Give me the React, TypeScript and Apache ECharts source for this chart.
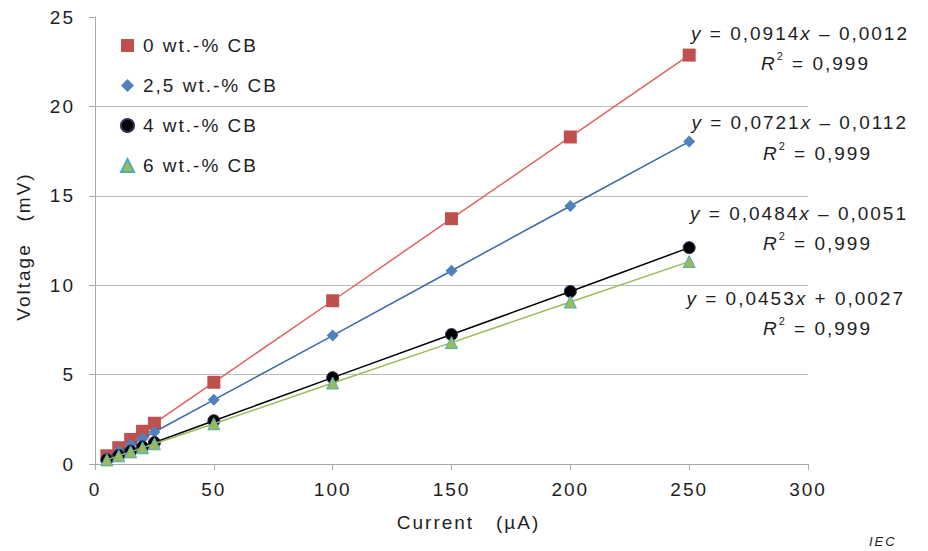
import React, { useEffect, useRef } from "react";
import * as echarts from "echarts";

const currents = [5, 10, 15, 20, 25, 50, 100, 150, 200, 250];
const cb0 = [0.46, 0.91, 1.37, 1.83, 2.28, 4.57, 9.13, 13.72, 18.29, 22.87];
const cb25 = [0.35, 0.71, 1.07, 1.43, 1.79, 3.59, 7.18, 10.81, 14.43, 18.03];
const cb4 = [0.24, 0.48, 0.72, 0.96, 1.2, 2.42, 4.83, 7.24, 9.65, 12.1];
const cb6 = [0.23, 0.46, 0.68, 0.91, 1.13, 2.25, 4.53, 6.79, 9.06, 11.32];

const seriesNames = ["0 wt.-% CB", "2,5 wt.-% CB", "4 wt.-% CB", "6 wt.-% CB"];
const yTicks = [0, 5, 10, 15, 20, 25];
const equations = [
  { slope: "0,0914", sign: "–", icpt: "0,0012" },
  { slope: "0,0721", sign: "–", icpt: "0,0112" },
  { slope: "0,0484", sign: "–", icpt: "0,0051" },
  { slope: "0,0453", sign: "+", icpt: "0,0027" },
];
const rSquared = ["0,999", "0,999", "0,999", "0,999"];

const FONT = "'Liberation Sans', Arial, sans-serif";
const FS = 19;
const LS = 2.0;
const TXT = "#1e1e1e";

export default function App() {
  const ref = useRef<HTMLDivElement>(null);
  useEffect(() => {
    const chart = echarts.init(ref.current!, null, { renderer: "svg" });
    const pair = (ys: number[]) => currents.map((x, i) => [x, ys[i]]);

    const canvas = document.createElement("canvas");
    const ctx = canvas.getContext("2d")!;
    const measure = (s: string, italic: boolean, size: number) => {
      ctx.font = `${italic ? "italic " : ""}${size}px ${FONT}`;
      return ctx.measureText(s).width + s.length * LS;
    };

    type Frag = { t: string; it?: boolean; sup?: boolean };
    const graphics: any[] = [];
    const placeLine = (frags: Frag[], right: number, cy: number) => {
      const widths = frags.map((f) => measure(f.t, !!f.it, f.sup ? 11 : FS));
      const total = widths.reduce((a, b) => a + b, 0);
      let x = right - total + LS;
      frags.forEach((f, k) => {
        graphics.push({
          type: "text",
          x,
          y: f.sup ? cy - 7 : cy,
          style: {
            text: f.t,
            font: `${f.it ? "italic " : ""}${f.sup ? 11 : FS}px ${FONT}`,
            fill: TXT,
            textAlign: "left",
            verticalAlign: "middle",
          },
        });
        x += widths[k];
      });
    };

    const eqY = [33, 122, 213, 298];
    const rY = [63, 153, 243, 328];
    const eqRight = [907, 906, 906, 903];
    const rRight = [868, 870, 870, 870];
    equations.forEach((e, k) => {
      placeLine(
        [
          { t: "y", it: true },
          { t: ` = ${e.slope}` },
          { t: "x", it: true },
          { t: ` ${e.sign} ${e.icpt}` },
        ],
        eqRight[k],
        eqY[k]
      );
      placeLine(
        [{ t: "R", it: true }, { t: "2", sup: true }, { t: ` = ${rSquared[k]}` }],
        rRight[k],
        rY[k]
      );
    });
    graphics.push({
      type: "text",
      x: 869,
      y: 541,
      style: {
        text: "IEC",
        font: `italic 13px ${FONT}`,
        fill: TXT,
        textAlign: "left",
        verticalAlign: "middle",
      },
    });

    chart.setOption({
      animation: false,
      grid: { left: 95, right: 120, top: 17, bottom: 87, containLabel: false },
      textStyle: { fontFamily: FONT },
      legend: {
        orient: "vertical",
        left: 115,
        top: 31,
        itemWidth: 13,
        itemHeight: 13,
        itemGap: 21,
        textStyle: { fontSize: FS, color: TXT, fontFamily: FONT, padding: [0, 0, 0, 4] },
        data: [
          { name: seriesNames[0], icon: "rect" },
          { name: seriesNames[1], icon: "diamond" },
          { name: seriesNames[2], icon: "circle" },
          { name: seriesNames[3], icon: "triangle" },
        ],
      },
      xAxis: {
        type: "value",
        min: 0,
        max: 300,
        interval: 50,
        name: "Current   (µA)",
        nameLocation: "middle",
        nameGap: 49,
        nameTextStyle: { fontSize: FS, color: TXT, fontFamily: FONT, padding: [0, 0, 0, 34] },
        axisLine: { show: true, lineStyle: { color: "#aaaaaa" } },
        axisTick: { show: true, length: 6, lineStyle: { color: "#aaaaaa" } },
        axisLabel: { fontSize: FS, color: TXT, margin: 16, fontFamily: FONT },
        splitLine: { show: false },
      },
      yAxis: {
        type: "value",
        min: yTicks[0],
        max: yTicks[yTicks.length - 1],
        interval: 5,
        name: "Voltage   (mV)",
        nameLocation: "middle",
        nameGap: 62,
        nameTextStyle: { fontSize: FS, color: TXT, fontFamily: FONT, padding: [0, 12, 0, 0] },
        axisLine: { show: true, lineStyle: { color: "#aaaaaa" } },
        axisTick: { show: true, length: 6, lineStyle: { color: "#aaaaaa" } },
        axisLabel: { fontSize: FS, color: TXT, margin: 20, fontFamily: FONT },
        splitLine: {
          show: true,
          lineStyle: {
            color: ["#bdbdbd", "#bdbdbd", "#bdbdbd", "#bdbdbd", "#bdbdbd", "rgba(0,0,0,0)"],
            width: 1,
          },
        },
      },
      graphic: graphics,
      series: [
        {
          name: seriesNames[0],
          type: "line",
          data: pair(cb0),
          symbol: "rect",
          symbolSize: 13,
          itemStyle: { color: "#c0504d" },
          lineStyle: { color: "#e0635e", width: 1.5 },
          z: 2,
        },
        {
          name: seriesNames[1],
          type: "line",
          data: pair(cb25),
          symbol: "diamond",
          symbolSize: 12,
          itemStyle: { color: "#4f81bd" },
          lineStyle: { color: "#3a6aa8", width: 1.5 },
          z: 3,
        },
        {
          name: seriesNames[2],
          type: "line",
          data: pair(cb4),
          symbol: "circle",
          symbolSize: 12,
          itemStyle: { color: "#000000", borderColor: "#3c2a5a", borderWidth: 1 },
          lineStyle: { color: "#000000", width: 1.5 },
          z: 4,
        },
        {
          name: seriesNames[3],
          type: "line",
          data: pair(cb6),
          symbol: "triangle",
          symbolSize: 12,
          itemStyle: { color: "#9bbb59", borderColor: "#4bacc6", borderWidth: 1 },
          lineStyle: { color: "#9bbb59", width: 1.5 },
          z: 5,
        },
      ],
    });
    return () => chart.dispose();
  }, []);
  return (
    <div
      ref={ref}
      style={{ width: 928, height: 551, marginLeft: -8, marginTop: -8, letterSpacing: `${LS}px` }}
    />
  );
}
